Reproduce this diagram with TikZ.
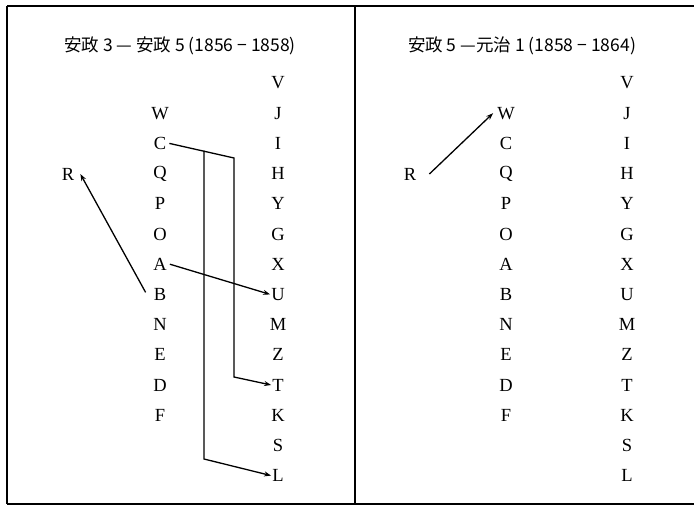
\documentclass[tikz,border=0pt]{standalone}
\usepackage{fontspec}
\setmainfont{Liberation Serif}
\newfontfamily\jpfont{Noto Sans CJK JP}
\usetikzlibrary{arrows.meta}
\begin{document}
\begin{tikzpicture}[x=1pt,y=-1pt,
  lbl/.style={font=\fontsize{18.5}{18.5}\selectfont, inner sep=1pt},
  ttl/.style={font=\jpfont\fontsize{17.5}{18}\selectfont, inner sep=0pt},
  frame/.style={line width=1.2pt},
  conn/.style={line width=1.3pt},
  arr/.style={conn,-{Stealth[length=7pt,width=5pt]}}]
\useasboundingbox (0,0) rectangle (694,506);
% frame
\draw[frame] (7,6) -- (694,6);
\draw[frame] (7,504) -- (694,504);
\draw[frame] (7,6) -- (7,504);
\draw[frame] (355,6) -- (355,504);
% titles
\node[ttl] (t1) at (180,46) {安政 3 — 安政 5 (1856 − 1858)};
\node[ttl] (t2) at (522,46) {安政 5 —元治 1 (1858 − 1864)};
% left panel
\foreach \n [count=\i from 1] in {W,C,Q,P,O,A,B,N,E,D,F}
  \node[lbl] (a\n) at (160,{83+30.2*\i}) {\n};
\foreach \n [count=\i from 0] in {V,J,I,H,Y,G,X,U,M,Z,T,K,S,L}
  \node[lbl] (b\n) at (278,{83+30.2*\i}) {\n};
\node[lbl] (aR) at (68,174) {R};
% right panel
\foreach \n [count=\i from 1] in {W,C,Q,P,O,A,B,N,E,D,F}
  \node[lbl] (c\n) at (506,{83+30.2*\i}) {\n};
\foreach \n [count=\i from 0] in {V,J,I,H,Y,G,X,U,M,Z,T,K,S,L}
  \node[lbl] (d\n) at (627,{83+30.2*\i}) {\n};
\node[lbl] (cR) at (410,174) {R};
% connectors left
\coordinate (k1) at (234,158);
\coordinate (k2) at (234,377);
\coordinate (k3) at (204,150.5);
\coordinate (k4) at (204,459);
\draw[arr] ([xshift=2pt]aC.east) -- (k1) -- (k2) -- (bT.west);
\draw[arr] (k3) -- (k4) -- (bL.west);
\draw[arr] ([xshift=2pt]aA.east) -- (bU.west);
\draw[arr] ([xshift=-7pt,yshift=2pt]aB.west) -- ([xshift=5pt]aR.east);
% connectors right
\draw[arr] ([xshift=12pt]cR.east) -- ([xshift=-3pt]cW.west);
\end{tikzpicture}
\end{document}
